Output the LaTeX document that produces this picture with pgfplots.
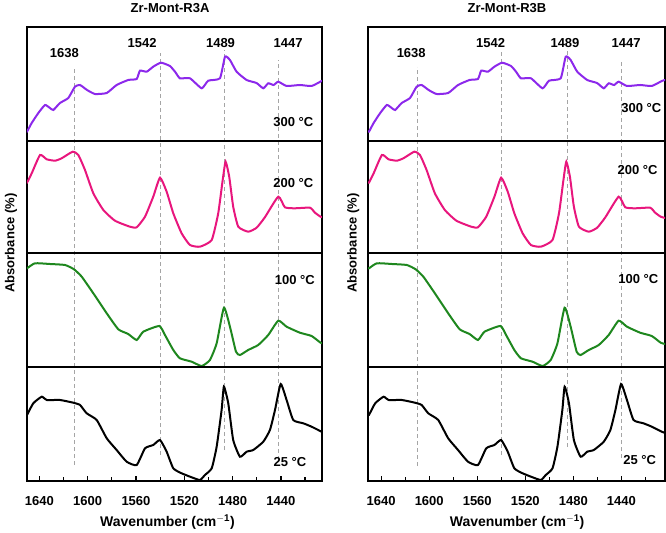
\documentclass[border=0pt]{standalone}
\usepackage{pgfplots}
\pgfplotsset{compat=1.18}
\usepackage{pgfplotstable}
\usepackage{fontspec}
\setmainfont{Liberation Sans}
\definecolor{cpur}{RGB}{140,40,235}
\definecolor{cpink}{RGB}{232,22,125}
\definecolor{cgreen}{RGB}{30,135,30}
\definecolor{cdash}{RGB}{165,165,165}

% 300 C
\pgfplotstableread{
x y
1651 9.3
1650.2 9.3
1646.3 18
1640.8 28
1635.3 36
1631.2 33
1628.4 31
1622.9 38
1616 43
1610.5 54.3
1606.3 56
1600.5 51
1593.9 47
1584.2 48
1576 56
1566.4 61
1559.4 62
1556.7 70.3
1551.1 69.3
1545.7 74.3
1539.3 78.3
1531.9 75
1527.5 69
1523.6 62.7
1515.3 62.7
1505.6 52.7
1500.2 60.3
1490.5 62.7
1486.3 84.3
1482.2 81
1476.7 69.3
1468.4 61
1460.2 58
1454.6 52.7
1450.5 57.7
1446 56
1442.2 59.3
1435.3 55
1424.3 56
1414.6 55
1406.3 60
1403.5 61
}\tA
% 200 C
\pgfplotstableread{
x y
1651 70.3
1650.2 70.3
1646.3 79.7
1639.4 98
1633.9 93.7
1627 92.3
1621.5 94.7
1612.4 101.3
1607.7 98
1602.2 83
1595.3 59.7
1587 43
1577.4 32.3
1565 26.3
1559.4 25.7
1552.5 36.3
1545.7 56.3
1540.1 75.3
1534.6 61.3
1529.1 39.7
1522.2 19.7
1515.3 8
1507 6.3
1497.3 13
1491.9 39.7
1488.2 73
1485.8 91.3
1482.8 76.3
1479.5 46.3
1475.3 26.3
1467.1 21.3
1460.1 25.3
1453.3 35.7
1442.2 56.3
1436.7 45.7
1428.4 44.7
1416 45.3
1411.8 40.3
1407.2 36.3
1403.5 35
}\tB
% 100 C
\pgfplotstableread{
x y
1651 98.7
1650.2 98.7
1643.6 103.7
1631.1 103
1618.7 102
1611.3 97.7
1604.9 90.3
1595.3 73.7
1584.2 53.7
1574.6 37.7
1566.4 33
1559.4 27
1553.9 35.3
1540.7 41
1536 32
1529.1 17
1523.6 8.7
1513.9 5.3
1505.6 1
1498.8 7
1493.2 23.7
1487.2 59.3
1482.2 40.3
1477.2 15.3
1473.9 12
1467.1 17
1458.8 22
1450.5 32
1442.2 46.3
1435.3 40.3
1424.3 34.3
1414.6 31
1407.2 24.3
1403.5 23
}\tC
% 25 C
\pgfplotstableread{
x y
1651 66
1650.2 66
1645 77.7
1638 84.3
1633.9 81
1622.9 81
1611.9 78.3
1606.3 76
1600.8 67.7
1592.5 61
1584.2 42.7
1576 31
1567.7 19.3
1559.4 16
1552.5 32.7
1545.7 36
1540.1 41
1534.6 29.3
1529.1 12.7
1522.2 7.7
1513.9 3.7
1507 1
1502.9 6
1497.3 12.7
1493.2 34.3
1489.1 71
1487.2 94.3
1483.6 77.7
1479.5 41
1473.9 24.3
1468.4 29.3
1462.9 31
1454.6 39.3
1449.1 51
1444.9 71
1440.2 97
1435.3 81
1429.8 61
1421.5 57.7
1414.6 54.3
1406.3 49.3
1403.5 48
}\tD

\pgfplotsset{
  every axis title shift=0pt,
  panel/.style={
    scale only axis, height=454bp,
    x dir=reverse, ymin=0, ymax=454,
    ytick=\empty,
    xtick={1440,1480,1520,1560,1600,1640},
    minor xtick={1420,1460,1500,1540,1580,1620},
    xtick pos=left, tick align=inside,
    major tick length=5bp, minor tick length=4bp,
    every tick/.style={black, line width=1.2bp},
    axis line style={line width=2bp},
    /pgf/number format/assume math mode=true,
    /pgf/number format/set thousands separator={},
    ticklabel style={font=\bfseries\fontsize{13bp}{15bp}\selectfont},
    xticklabel style={yshift=-12bp},
    xlabel={\bfseries Wavenumber (cm$^{\mathbf{-1}}$)},
    xlabel style={font=\fontsize{14bp}{16bp}\selectfont, anchor=center},
    ylabel={Absorbance (\%)},
    ylabel style={font=\bfseries\fontsize{13bp}{15bp}\selectfont, anchor=center},
  },
  dl/.style={cdash, line width=1bp, dash pattern=on 4bp off 3bp},
  cv/.style={line width=2bp, no marks, smooth, tension=0.3},
}
\tikzset{
  pk/.style={font=\bfseries\fontsize{13bp}{15bp}\selectfont},
  tl/.style={font=\bfseries\fontsize{13bp}{15bp}\selectfont},
}

\begin{document}
\begin{tikzpicture}
\useasboundingbox (-27bp,-52bp) rectangle (639bp,481bp);
% left panel
\begin{axis}[panel, at={(0bp,0bp)}, anchor=south west, width=295bp,
  xmin=1406, xmax=1650.2,
  title={Zr-Mont-R3A},
  title style={at={(axis description cs:0.485,1.0425)}, anchor=center, font=\bfseries\fontsize{13bp}{15bp}\selectfont},
  xlabel style={at={(axis description cs:0.476,-0.0903)}},
  ylabel style={at={(axis description cs:-0.054,0.524)}}]
\addplot[dl] coordinates {(1611,16) (1611,414)};
\addplot[dl] coordinates {(1540,26) (1540,428)};
\addplot[dl] coordinates {(1487,31) (1487,431)};
\addplot[dl] coordinates {(1442,21) (1442,421)};
\addplot[cv, cpur] table[x index=0, y expr=\thisrowno{1}+340] {\tA};
\addplot[cv, cpink] table[x index=0, y expr=\thisrowno{1}+228] {\tB};
\addplot[cv, cgreen] table[x index=0, y expr=\thisrowno{1}+114] {\tC};
\addplot[cv, black] table[x index=0, y expr=\thisrowno{1}] {\tD};
\draw[line width=2bp] (rel axis cs:0,0.2511) -- (rel axis cs:1,0.2511);
\draw[line width=2bp] (rel axis cs:0,0.5022) -- (rel axis cs:1,0.5022);
\draw[line width=2bp] (rel axis cs:0,0.7489) -- (rel axis cs:1,0.7489);
\node[pk] at (axis cs:1619.3,427.7) {1638};
\node[pk] at (axis cs:1554.9,437.7) {1542};
\node[pk] at (axis cs:1490,437.7) {1489};
\node[pk] at (axis cs:1434,437.7) {1447};
\node[tl] at (axis cs:1429.8,359.3) {300 °C};
\node[tl] at (axis cs:1429.8,297.7) {200 °C};
\node[tl] at (axis cs:1428.5,201) {100 °C};
\node[tl] at (axis cs:1432.5,18.5) {25 °C};
\end{axis}
% right panel
\begin{axis}[panel, at={(341bp,0bp)}, anchor=south west, width=297bp,
  xmin=1403.6, xmax=1651,
  title={Zr-Mont-R3B},
  title style={at={(axis description cs:0.468,1.0425)}, anchor=center, font=\bfseries\fontsize{13bp}{15bp}\selectfont},
  xlabel style={at={(axis description cs:0.502,-0.0903)}},
  ylabel style={at={(axis description cs:-0.05,0.524)}}]
\addplot[dl] coordinates {(1610,15) (1610,414)};
\addplot[dl] coordinates {(1539.4,26) (1539.4,431)};
\addplot[dl] coordinates {(1485,34) (1485,433)};
\addplot[dl] coordinates {(1440,23) (1440,419)};
\addplot[cv, cpur] table[x index=0, y expr=\thisrowno{1}+340] {\tA};
\addplot[cv, cpink] table[x index=0, y expr=\thisrowno{1}+228] {\tB};
\addplot[cv, cgreen] table[x index=0, y expr=\thisrowno{1}+114] {\tC};
\addplot[cv, black] table[x index=0, y expr=\thisrowno{1}] {\tD};
\draw[line width=2bp] (rel axis cs:0,0.2511) -- (rel axis cs:1,0.2511);
\draw[line width=2bp] (rel axis cs:0,0.5022) -- (rel axis cs:1,0.5022);
\draw[line width=2bp] (rel axis cs:0,0.7489) -- (rel axis cs:1,0.7489);
\node[pk] at (axis cs:1615,427.7) {1638};
\node[pk] at (axis cs:1548.8,437.7) {1542};
\node[pk] at (axis cs:1486.9,437.7) {1489};
\node[pk] at (axis cs:1436,437.7) {1447};
\node[tl] at (axis cs:1423.3,372.7) {300 °C};
\node[tl] at (axis cs:1426.5,311) {200 °C};
\node[tl] at (axis cs:1425.8,202) {100 °C};
\node[tl] at (axis cs:1424.7,21) {25 °C};
\end{axis}
\end{tikzpicture}
\end{document}
